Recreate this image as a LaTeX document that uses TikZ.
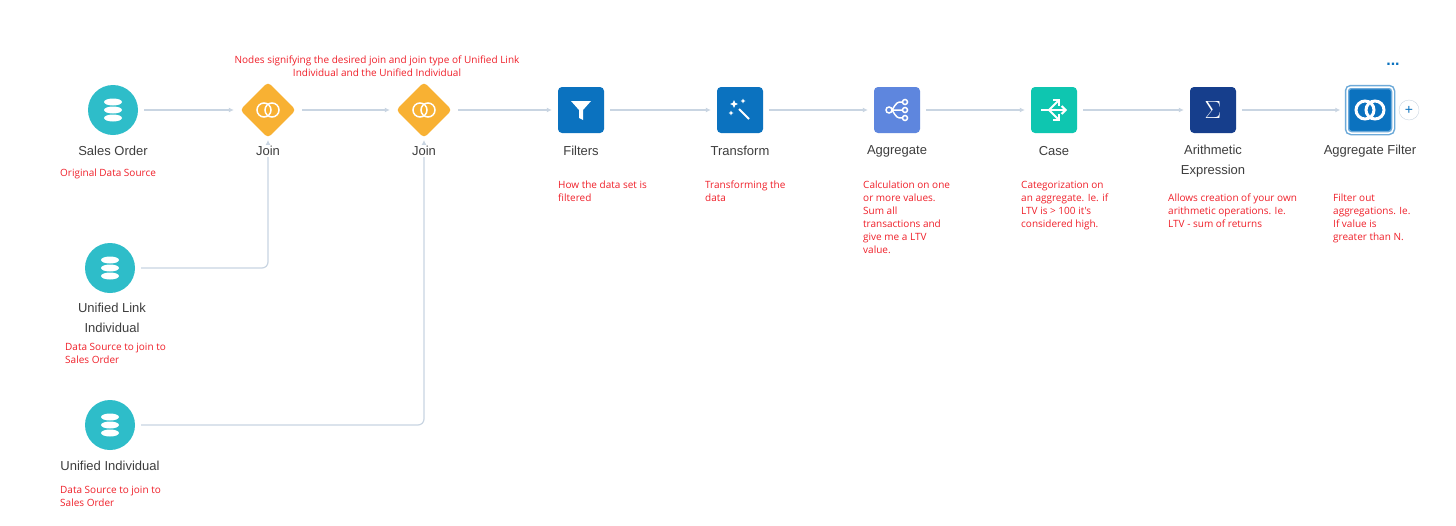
\documentclass[tikz,border=0pt]{standalone}
\usepackage{fontspec}
\setmainfont{Liberation Sans}
\newfontfamily\notefont{Open Sans}
\usetikzlibrary{shapes.geometric,arrows.meta}
\definecolor{teal1}{HTML}{2EBDC9}
\definecolor{joiny}{HTML}{F8B133}
\definecolor{blue1}{HTML}{0B72BF}
\definecolor{agg}{HTML}{5E86DE}
\definecolor{casec}{HTML}{0EC6B0}
\definecolor{navy}{HTML}{163E8C}
\definecolor{edgec}{HTML}{C9D5E2}
\definecolor{redn}{HTML}{F0202A}
\definecolor{lbl}{HTML}{3E3E3E}
\begin{document}
\begin{tikzpicture}[x=1pt,y=-1pt,
  src/.style={circle,fill=teal1,minimum size=50pt,inner sep=0pt},
  joinnode/.style={diamond,fill=joiny,minimum size=56pt,inner sep=0pt,rounded corners=4pt},
  box/.style={rectangle,rounded corners=4pt,minimum size=46pt,inner sep=0pt,fill=#1},
  lab/.style={text=lbl,font=\fontsize{13}{20}\selectfont,align=center},
  note/.style={text=redn,font=\notefont\fontsize{10}{13}\selectfont,align=left,anchor=north west,inner sep=0pt},
  conn/.style={draw=edgec,line width=1.2pt,-{Latex[length=5pt,width=5pt]},rounded corners=6pt,shorten <=6pt,shorten >=6pt},
  ic/.style={white,line width=2pt}]
\useasboundingbox (0,0) rectangle (1456,525);
\fill[white] (0,0) rectangle (1456,525);
% nodes
\node[src] (so) at (113,110) {};
\node[joinnode] (j1) at (268,110) {};
\node[joinnode] (j2) at (424,110) {};
\node[box=blue1] (fi) at (581,110) {};
\node[box=blue1] (tr) at (740,110) {};
\node[box=agg] (ag) at (897,110) {};
\node[box=casec] (ca) at (1054,110) {};
\node[box=navy] (ar) at (1213,110) {};
\node[box=blue1,draw=blue1!60,line width=1.5pt,double=white,double distance=1.5pt] (af) at (1370,110) {};
\node[circle,draw=edgec,fill=white,minimum size=20pt,inner sep=0pt,font=\fontsize{14}{14}\selectfont,text=blue1] (pl) at (1409,110) {+};
\node[text=blue1,font=\fontsize{16}{16}\bfseries\selectfont] (dots) at (1393,64) {...};
\node[src] (uli) at (110,268) {};
\node[src] (ui) at (110,425) {};
% icons: database stacks
\foreach \n in {so,uli,ui}{
  \foreach \dy in {-8,0,8}{
    \fill[white] ([yshift=-\dy pt]\n.center) ellipse (9pt and 3.5pt);
    \draw[teal1,line width=0.8pt] ([xshift=-9pt,yshift=-\dy pt-1.5pt]\n.center) arc (180:360:9pt and 3.5pt);
  }}
% join icons
\foreach \n in {j1,j2}{
  \draw[white,line width=1.5pt] ([xshift=-4pt]\n.center) circle (7pt);
  \draw[white,line width=1.5pt] ([xshift=4pt]\n.center) circle (7pt);}
% funnel
\fill[white] ([xshift=-10pt,yshift=9pt]fi.center) -- ([xshift=10pt,yshift=9pt]fi.center) -- ([xshift=2pt,yshift=0pt]fi.center) -- ([xshift=2pt,yshift=-10pt]fi.center) -- ([xshift=-2pt,yshift=-8pt]fi.center) -- ([xshift=-2pt]fi.center) -- cycle;
% wand
\draw[ic] ([xshift=-1pt,yshift=1pt]tr.center) -- ([xshift=9pt,yshift=-9pt]tr.center);
\foreach \dx/\dy/\s in {-6/6/4,3/9/2.5,-9/-3/2.5}{
  \fill[white] ([xshift=\dx pt,yshift=\dy pt]tr.center) ++(0,\s) -- ++(0.3*\s,-0.7*\s) -- ++(0.7*\s,-0.3*\s) -- ++(-0.7*\s,-0.3*\s) -- ++(-0.3*\s,-0.7*\s) -- ++(-0.3*\s,0.7*\s) -- ++(-0.7*\s,0.3*\s) -- ++(0.7*\s,0.3*\s) -- cycle;}
% aggregate
\draw[white,line width=1.5pt] ([xshift=-8pt]ag.center) circle (3pt) ([xshift=8pt,yshift=8pt]ag.center) circle (2.5pt) ([xshift=8pt]ag.center) circle (2.5pt) ([xshift=8pt,yshift=-8pt]ag.center) circle (2.5pt);
\draw[white,line width=1.5pt] ([xshift=-5pt]ag.center) -- ([xshift=5.5pt]ag.center) ([xshift=-5pt]ag.center) .. controls ([yshift=8pt]ag.center) .. ([xshift=5.5pt,yshift=8pt]ag.center) ([xshift=-5pt]ag.center) .. controls ([yshift=-8pt]ag.center) .. ([xshift=5.5pt,yshift=-8pt]ag.center);
% case
\draw[ic,-{Straight Barb[length=4pt]}] ([xshift=-13pt]ca.center) -- ([xshift=13pt]ca.center);
\draw[ic,-{Straight Barb[length=4pt]}] ([xshift=-5pt]ca.center) -- ([xshift=6pt,yshift=11pt]ca.center);
\draw[ic,-{Straight Barb[length=4pt]}] ([xshift=-5pt]ca.center) -- ([xshift=6pt,yshift=-11pt]ca.center);
% sigma
\node[white,font=\fontsize{34}{34}\selectfont] at (ar.center) {$\Sigma$};
% aggregate filter
\draw[white,line width=3pt] ([xshift=-5pt]af.center) circle (9pt) ([xshift=5pt]af.center) circle (9pt);
% connectors
\draw[conn] (so) -- (j1);
\draw[conn] (j1) -- (j2);
\draw[conn] (j2) -- (fi);
\draw[conn] (fi) -- (tr);
\draw[conn] (tr) -- (ag);
\draw[conn] (ag) -- (ca);
\draw[conn] (ca) -- (ar);
\draw[conn] (ar) -- (af);
\coordinate (j1in) at (268,140);
\coordinate (j2in) at (424,140);
\draw[conn,shorten >=0pt] (uli.east) -- (268,268) -- (j1in);
\draw[conn,shorten >=0pt] (ui.east) -- (424,425) -- (j2in);
% labels
\node[lab] at (113,151) {Sales Order};
\node[lab,fill=white,inner sep=1pt] at (268,151) {Join};
\node[lab,fill=white,inner sep=1pt] at (424,151) {Join};
\node[lab] at (581,151) {Filters};
\node[lab] at (740,151) {Transform};
\node[lab] at (897,151) {Aggregate};
\node[lab] at (1054,151) {Case};
\node[lab] at (1213,161) {Arithmetic\\Expression};
\node[lab] at (1370,151) {Aggregate Filter};
\node[lab] at (112,318) {Unified Link\\Individual};
\node[lab] at (110,466) {Unified Individual};
% notes
\node[text=redn,font=\notefont\fontsize{10}{13}\selectfont,align=center] at (377,66) {Nodes signifying the desired join and join type of Unified Link\\Individual and the Unified Individual};
\node[note] at (60,169) {Original Data Source};
\node[note] at (558,181) {How the data set is\\filtered};
\node[note] at (705,181) {Transforming the\\data};
\node[note] at (863,181) {Calculation on one\\or more values.\\Sum all\\transactions and\\give me a LTV\\value.};
\node[note] at (1021,181) {Categorization on\\an aggregate. Ie. if\\LTV is > 100 it's\\considered high.};
\node[note] at (1168,194) {Allows creation of your own\\arithmetic operations. Ie.\\LTV - sum of returns};
\node[note] at (1333,194) {Filter out\\aggregations. Ie.\\If value is\\greater than N.};
\node[note] at (65,343) {Data Source to join to\\Sales Order};
\node[note] at (60,486) {Data Source to join to\\Sales Order};
\end{tikzpicture}
\end{document}
